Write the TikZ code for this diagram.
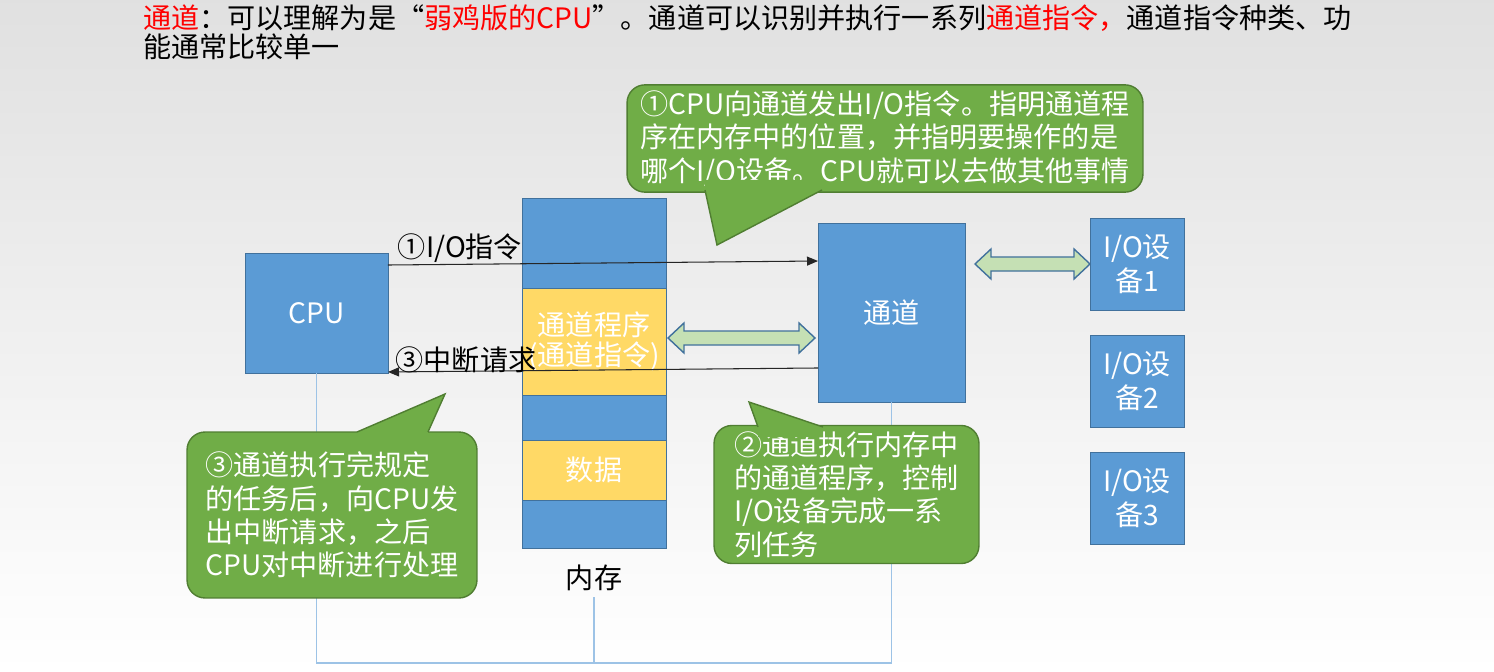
\documentclass[tikz,border=0pt]{standalone}
\usepackage{fontspec}
\setmainfont{Noto Sans CJK SC}
\usepackage{xcolor}
\usetikzlibrary{arrows.meta, positioning, calc}

\definecolor{boxblue}{HTML}{5B9BD5}
\definecolor{boxline}{HTML}{41719C}
\definecolor{progyellow}{HTML}{FFD966}
\definecolor{notegreen}{HTML}{70AD47}
\definecolor{noteline}{HTML}{507E32}
\definecolor{busblue}{HTML}{9DC3E6}
\definecolor{arrowfill}{HTML}{C5E0B4}
\definecolor{titlered}{HTML}{FF0000}

\begin{document}
\begin{tikzpicture}[
    x=0.02cm, y=-0.02cm,
    every node/.style={font=\fontsize{16}{19}\selectfont},
    unit/.style={
        rectangle,
        draw=boxline,
        fill=boxblue,
        text=white,
        align=center,
        inner sep=0pt,
        outer sep=0pt
    },
    memseg/.style={unit, minimum width=2.88cm},
    progseg/.style={memseg, fill=progyellow},
    iodev/.style={unit, minimum width=1.88cm, minimum height=1.84cm},
    biarrow/.style={
        draw=boxline,
        fill=arrowfill,
        line width=0.8pt,
        line join=miter
    },
    note/.style={
        rectangle,
        rounded corners=0.36cm,
        draw=noteline,
        fill=notegreen,
        line width=0.8pt,
        text=white,
        align=left,
        font=\fontsize{16}{19}\selectfont
    },
    msg/.style={
        -{Triangle[length=2.2mm, width=1.8mm]},
        line width=0.6pt,
        black!85
    },
    bus/.style={draw=busblue, line width=0.8pt}
]

\useasboundingbox (0,0) rectangle (1494,672);
\shade[top color=black!12, bottom color=white] (0,0) rectangle (1494,672);

% title
\node[anchor=west] (title1) at (137,18) {\textcolor{titlered}{通道}：可以理解为是“\textcolor{titlered}{弱鸡版的CPU}”。通道可以识别并执行一系列\textcolor{titlered}{通道指令，}通道指令种类、功};
\node[anchor=west] (title2) at (137,47) {能通常比较单一};

% units
\node[unit, minimum width=2.86cm, minimum height=2.4cm] (cpu) at (316.5,313) {CPU};
\node[unit, minimum width=2.94cm, minimum height=3.58cm] (chan) at (891.5,312.5) {通道};

% memory
\node[memseg, minimum height=1.8cm] (mtop) at (594,243) {};
\node[progseg, minimum height=2.14cm, below=0pt of mtop, font=\fontsize{16}{17}\selectfont] (prog) {通道程序\\(通道指令)};
\node[memseg, minimum height=0.9cm, below=0pt of prog] (mmid) {};
\node[progseg, minimum height=1.2cm, below=0pt of mmid] (data) {数据};
\node[memseg, minimum height=0.96cm, below=0pt of data] (mbot) {};
\node (memlbl) at (594,578) {内存};

% devices
\node[iodev] (io1) at (1137,264) {I/O设\\备1};
\node[iodev, below=0.5cm of io1] (io2) {I/O设\\备2};
\node[iodev, below=0.5cm of io2] (io3) {I/O设\\备3};

% bus
\coordinate (busend) at (891.5,663);
\draw[bus] (cpu.south) |- (busend) -- (chan.south);
\draw[bus] (memlbl.south) -- (memlbl.south |- busend);

% data paths
\coordinate (pa) at (668,338);
\coordinate (pb) at (815,338);
\draw[biarrow] (pa) -- ++(16,-15) -- ++(0,8) -- ($(pb)+(-16,-7)$) -- ++(0,-8) -- (pb)
    -- ++(-16,15) -- ++(0,-8) -- ($(pa)+(16,7)$) -- ++(0,8) -- cycle;
\coordinate (da) at (975,264);
\coordinate (db) at (1090,264);
\draw[biarrow] (da) -- ++(16,-15) -- ++(0,8) -- ($(db)+(-16,-7)$) -- ++(0,-8) -- (db)
    -- ++(-16,15) -- ++(0,-8) -- ($(da)+(16,7)$) -- ++(0,8) -- cycle;

% messages
\draw[msg] ([yshift=0.96cm]cpu.east) -- ([yshift=1.03cm]chan.west);
\draw[msg] ([yshift=-1.11cm]chan.west) -- ([yshift=-1.18cm]cpu.east);
\node (cmdlbl) at (460,248) {①I/O指令};
\node (irqlbl) at (466,360) {③中断请求};

% callouts
\node[note, minimum width=10.32cm, minimum height=2.06cm] (note1) at (885,138.5)
    {①CPU向通道发出I/O指令。指明通道程\\序在内存中的位置，并指明要操作的是\\哪个I/O设备。CPU就可以去做其他事情};
\fill[notegreen] (705,180) -- (705,190) -- (717,245) -- (822,190) -- (822,180) -- cycle;
\draw[noteline, line width=0.8pt] (705,190) -- (717,245) -- (822,190);

\node[note, minimum width=5.8cm, minimum height=3.32cm] (note3) at (332,515)
    {③通道执行完规定\\的任务后，向CPU发\\出中断请求，之后\\CPU对中断进行处理};
\fill[notegreen] (357,442) -- (357,432) -- (445,394) -- (428,432) -- (428,442) -- cycle;
\draw[noteline, line width=0.8pt] (357,432) -- (445,394) -- (428,432);

\node[note, minimum width=5.3cm, minimum height=2.7cm] (note2) at (846.5,494.5)
    {②通道执行内存中\\的通道程序，控制\\I/O设备完成一系\\列任务};
\fill[notegreen] (758,437) -- (758,427) -- (749,402) -- (823,427) -- (823,437) -- cycle;
\draw[noteline, line width=0.8pt] (758,427) -- (749,402) -- (823,427);

\end{tikzpicture}
\end{document}
